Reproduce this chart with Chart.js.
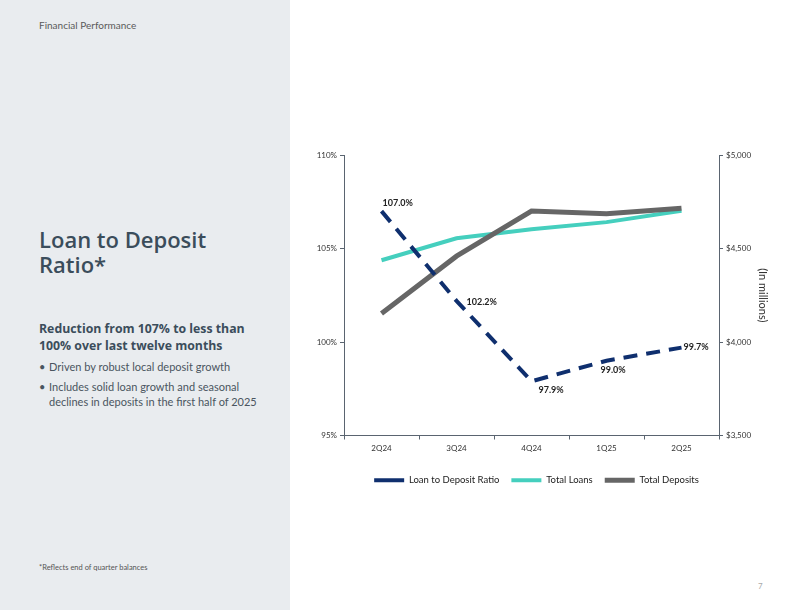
<!DOCTYPE html>
<html>
<head>
<meta charset="utf-8">
<script src="https://cdn.jsdelivr.net/npm/chart.js@4.4.1/dist/chart.umd.min.js"></script>
<style>
  body { margin: 0; width: 800px; height: 610px; background: #fff; position: relative; overflow: hidden; font-family: Lato, "Open Sans", sans-serif; }
  .side { position: absolute; left: 0; top: 0; width: 290px; height: 610px; background: #e9ecef; }
  .section { position: absolute; left: 39px; top: 19px; font-size: 10px; color: #5a5a5a; }
  h1 { position: absolute; left: 39px; top: 227px; margin: 0; font-family: "Open Sans", sans-serif; font-weight: 600; font-size: 22px; line-height: 25px; color: #3b4d5b; }
  h2 { position: absolute; left: 39px; top: 320px; margin: 0; font-family: "Open Sans", sans-serif; font-weight: 700; font-size: 12.3px; line-height: 17px; color: #3b4d5b; }
  ul { position: absolute; left: 39px; top: 359px; margin: 0; padding: 0; list-style: none; font-size: 11px; color: #4a5560; width: 240px; }
  li { position: relative; padding-left: 10px; line-height: 15px; margin-bottom: 5px; }
  li::before { content: "\2022"; position: absolute; left: 0; }
  .note { position: absolute; left: 39px; top: 563px; font-size: 7.5px; color: #555; }
  .page { position: absolute; left: 758px; top: 581px; font-size: 8px; color: #aaa; }
  #wrap { position: absolute; left: 300px; top: 140px; width: 473px; height: 358px; }
</style>
</head>
<body>
<div class="side"></div>
<div class="section">Financial Performance</div>
<h1>Loan to Deposit<br>Ratio*</h1>
<h2>Reduction from 107% to less than<br>100% over last twelve months</h2>
<ul>
  <li>Driven by robust local deposit growth</li>
  <li>Includes solid loan growth and seasonal declines in deposits in the first half of 2025</li>
</ul>
<div class="note">*Reflects end of quarter balances</div>
<div class="page">7</div>
<div id="wrap"><canvas id="chart"></canvas></div>
<script>
const quarters = ['2Q24', '3Q24', '4Q24', '1Q25', '2Q25'];
const loanToDepositRatio = [107.0, 102.2, 97.9, 99.0, 99.7];
const totalLoans = [4437, 4555, 4603, 4641, 4702];
const totalDeposits = [4153, 4459, 4700, 4686, 4715];

const axisColor = '#5a6470';
const tickFont = { family: 'Lato, sans-serif', size: 8 };

// where each ratio label sits relative to its point
const labelOffsets = [[1, -8], [10, 1], [7, 9], [-6, 9], [2, -1]];

const ratioLabels = {
    id: 'ratioLabels',
    afterDatasetsDraw(chart) {
        const ctx = chart.ctx;
        const meta = chart.getDatasetMeta(0);
        ctx.save();
        ctx.font = 'bold 9px Lato, sans-serif';
        ctx.fillStyle = '#222';
        ctx.textBaseline = 'middle';
        ctx.textAlign = 'left';
        meta.data.forEach((pt, i) => {
            const [dx, dy] = labelOffsets[i];
            ctx.fillText(loanToDepositRatio[i].toFixed(1) + '%', pt.x + dx, pt.y + dy);
        });
        ctx.restore();
    }
};

new Chart(document.getElementById('chart'), {
    type: 'line',
    data: {
        labels: quarters,
        datasets: [
            {
                label: 'Loan to Deposit Ratio',
                data: loanToDepositRatio,
                yAxisID: 'y',
                borderColor: '#0f2f6e',
                backgroundColor: '#0f2f6e',
                borderWidth: 4,
                borderDash: [14, 9],
                pointRadius: 0,
                tension: 0,
                order: 0
            },
            {
                label: 'Total Loans',
                data: totalLoans,
                yAxisID: 'y1',
                borderColor: '#45cfbe',
                backgroundColor: '#45cfbe',
                borderWidth: 4,
                pointRadius: 0,
                tension: 0,
                order: 2
            },
            {
                label: 'Total Deposits',
                data: totalDeposits,
                yAxisID: 'y1',
                borderColor: '#666666',
                backgroundColor: '#666666',
                borderWidth: 5,
                pointRadius: 0,
                tension: 0,
                order: 1
            }
        ]
    },
    options: {
        responsive: true,
        maintainAspectRatio: false,
        animation: false,
        layout: { padding: { top: 15, bottom: 3 } },
        plugins: {
            tooltip: { enabled: false },
            legend: {
                position: 'bottom',
                labels: {
                    usePointStyle: true,
                    pointStyle: 'line',
                    pointStyleWidth: 30,
                    boxHeight: 6,
                    padding: 12,
                    color: '#222',
                    font: { family: 'Lato, sans-serif', size: 9.5 },
                    sort: (a, b) => a.datasetIndex - b.datasetIndex
                }
            }
        },
        scales: {
            x: {
                offset: true,
                grid: { offset: true, drawOnChartArea: false, tickLength: 4, color: axisColor },
                border: { color: axisColor },
                ticks: { color: '#333', font: tickFont, padding: 4 },
                afterFit(scale) { scale.height = 28; }
            },
            y: {
                position: 'left',
                min: 95,
                max: 110,
                ticks: { stepSize: 5, color: '#333', font: tickFont, callback: v => v + '%' },
                grid: { drawOnChartArea: false, tickLength: 4, color: axisColor },
                border: { color: axisColor },
                afterFit(scale) { scale.width = 44; }
            },
            y1: {
                position: 'right',
                min: 3500,
                max: 5000,
                ticks: { stepSize: 500, color: '#333', font: tickFont, callback: v => '$' + v.toLocaleString('en-US') },
                grid: { drawOnChartArea: false, tickLength: 4, color: axisColor },
                border: { color: axisColor },
                title: { display: true, text: '(In millions)', color: '#333', font: { family: 'Lato, sans-serif', size: 11 } },
                afterFit(scale) { scale.width = 54; }
            }
        }
    },
    plugins: [ratioLabels]
});
</script>
</body>
</html>
